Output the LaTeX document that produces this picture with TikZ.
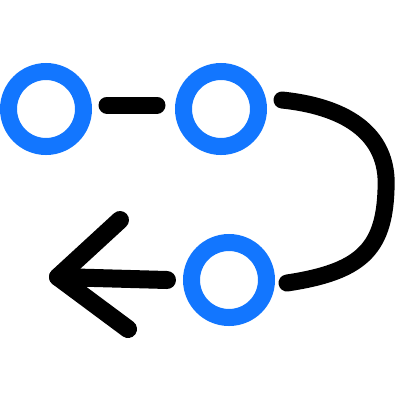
\documentclass[tikz,border=0pt]{standalone}
\definecolor{ringblue}{RGB}{18,118,255}
\tikzset{
  ring/.style={circle, draw=ringblue, line width=17pt, minimum size=75pt, inner sep=0pt},
  ink/.style={draw=black, line width=18pt, line cap=round, line join=round}
}
\begin{document}
\begin{tikzpicture}[x=1pt,y=-1pt]
\useasboundingbox (0,0) rectangle (400,400);
\node[ring] (c1) at (46,109) {};
\node[ring] (c2) at (221,109) {};
\node[ring] (c3) at (229,280) {};
\coordinate (tip) at (58,277);
\coordinate (armtop) at (120,220);
\coordinate (armbot) at (128,329);
% dash between first two circles
\draw[ink, line width=17pt] ([shift={(15,-4)}]c1.east) -- ([shift={(-18,-4)}]c2.west);
% loop from second to third circle
\draw[ink, line width=17pt] ([shift={(15,-9)}]c2.east) .. controls (340,106) and (390,130) .. (386,190)
  .. controls (384,250) and (360,272) .. ([shift={(12,3)}]c3.east);
% arrow shaft and head
\draw[ink, line width=18pt] ([xshift=-16pt]c3.west) -- (tip);
\draw[ink] (armtop) -- (tip) -- (armbot);
\end{tikzpicture}
\end{document}
